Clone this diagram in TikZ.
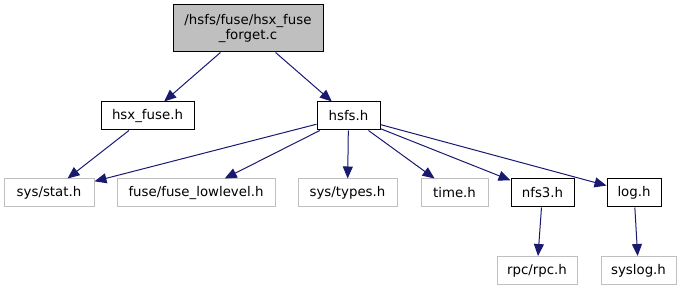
\documentclass[tikz,border=0pt]{standalone}
\usepackage{fontspec}
\setmainfont{DejaVu Sans}
\usetikzlibrary{arrows.meta}
\definecolor{edgeblue}{HTML}{191970}
\definecolor{boxgrey}{HTML}{BFBFBF}
\begin{document}
\begin{tikzpicture}[x=0.75pt,y=-0.75pt,
  every node/.style={font=\fontsize{10pt}{11.5pt}\selectfont, inner sep=0pt, align=center},
  filebox/.style={draw=black, line width=0.75pt, fill=white, minimum height=21pt},
  extbox/.style={draw=boxgrey, line width=0.75pt, fill=white, minimum height=21pt},
  mainbox/.style={draw=black, line width=0.75pt, fill=boxgrey},
  dep/.style={draw=edgeblue, line width=0.75pt, -{Triangle[length=9pt,width=7.5pt]}}]
\useasboundingbox (0,0) rectangle (681,291);
% nodes
\node[mainbox, minimum width=112.5pt, minimum height=35.25pt] (top) at (248,28.5) {/hsfs/fuse/hsx\_fuse\\\_forget.c};
\node[filebox, minimum width=69.75pt] (hsxfuse) at (147.5,116) {hsx\_fuse.h};
\node[filebox, minimum width=47.25pt] (hsfs) at (348.5,116) {hsfs.h};
\node[extbox, minimum width=67.5pt] (stat) at (49,193) {sys/stat.h};
\node[extbox, minimum width=118.5pt] (lowlevel) at (196,193) {fuse/fuse\_lowlevel.h};
\node[extbox, minimum width=74.25pt] (types) at (347.5,193) {sys/types.h};
\node[extbox, minimum width=50.25pt] (time) at (454.5,193) {time.h};
\node[filebox, minimum width=47.25pt] (nfs3) at (542.5,193) {nfs3.h};
\node[filebox, minimum width=40.5pt] (log) at (634,193) {log.h};
\node[extbox, minimum width=60pt] (rpc) at (537,270.5) {rpc/rpc.h};
\node[extbox, minimum width=56.25pt] (syslog) at (638.5,270.5) {syslog.h};
% dependencies
\draw[dep] (top) -- (hsxfuse);
\draw[dep] (top) -- (hsfs);
\draw[dep] (hsxfuse) -- (stat);
\draw[dep] (hsfs) -- (stat);
\draw[dep] (hsfs) -- (lowlevel);
\draw[dep] (hsfs) -- (types);
\draw[dep] (hsfs) -- (time);
\draw[dep] (hsfs) -- (nfs3);
\draw[dep] (hsfs) -- (log);
\draw[dep] (nfs3) -- (rpc);
\draw[dep] (log) -- (syslog);
\end{tikzpicture}
\end{document}
